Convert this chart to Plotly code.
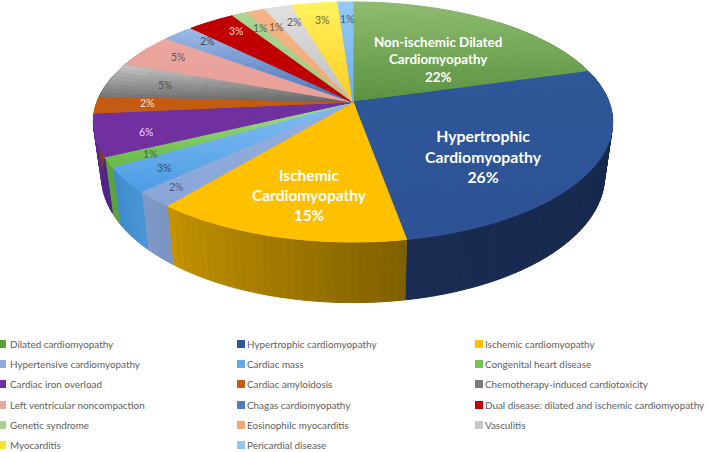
import math
import plotly.graph_objects as go

# ---------- data ----------
categories = [
    "Dilated cardiomyopathy", "Hypertrophic cardiomyopathy", "Ischemic cardiomyopathy",
    "Hypertensive cardiomyopathy", "Cardiac mass", "Congenital heart disease",
    "Cardiac iron overload", "Cardiac amyloidosis", "Chemotherapy-induced cardiotoxicity",
    "Left ventricular noncompaction", "Chagas cardiomyopathy",
    "Dual disease: dilated and ischemic cardiomyopathy",
    "Genetic syndrome", "Eosinophilc myocarditis", "Vasculitis",
    "Myocarditis", "Pericardial disease",
]
# share of the circle as drawn
slice_share = [20.6, 26.6, 13.7, 2.2, 3.4, 1.3, 5.7, 2.3, 4.8, 4.6, 2.3, 3.5, 1.1, 1.4, 2.0, 3.4, 1.1]
# printed labels
pct_labels = ["22%", "26%", "15%", "2%", "3%", "1%", "6%", "2%", "5%", "5%", "2%", "3%", "1%", "1%", "2%", "3%", "1%"]

# ---------- styles ----------
top_upper = ["#8FBC70", "#2D5797", "#FFC000", "#94AEDE", "#82BEF2", "#A2E08A", "#7030A0", "#C55A11",
             "#C8C8C8", "#EAA6A0", "#A0BCE8", "#C00000", "#ABD391", "#F5B488", "#E0E0E0", "#FFF25E", "#94CAF6"]
top_lower = ["#5A9240", "#2D5296", "#FFC000", "#8AA5D8", "#4D9CE4", "#67B845", "#7030A0", "#C55A11",
             "#666666", "#E8A098", "#4470B8", "#C00000", "#A2CC86", "#F4A870", "#BEBEBE", "#FFCC20", "#6FAEE8"]
wall_start = ["#4C7A34", "#14264A", "#7F6000", "#7C93BF", "#4A96D6", "#5BA33F", "#4F2288", "#8A3F0C",
              "#555555", "#A87068", "#3A5F99", "#800000", "#80A068", "#B88050", "#909090", "#B89A10", "#5A90C0"]
wall_end = ["#4C7A34", "#1A2C52", "#C49200", "#8099C8", "#3F8ACB", "#5BA33F", "#5B2A90", "#8A3F0C",
            "#555555", "#A87068", "#3A5F99", "#800000", "#80A068", "#B88050", "#909090", "#B89A10", "#5A90C0"]

big_labels = [
    (0, "Non-ischemic Dilated<br>Cardiomyopathy", 438, 59, 13.4),
    (1, "Hypertrophic<br>Cardiomyopathy", 483, 156, 15.8),
    (2, "Ischemic<br>Cardiomyopathy", 309, 195, 15.5),
]
small_label_pos = {3: (176, 187, "#505A70"), 4: (164, 168, "#404A60"), 5: (150, 154, "#3E6A30"),
                   6: (146, 132, "#EAD8F6"), 7: (147, 103, "#FBE8DA"), 8: (165, 85, "#505050"),
                   9: (178, 57, "#6A5250"), 10: (207, 41, "#3A4A68"), 11: (236, 31, "#FFD8D8"),
                   12: (260, 28, "#4F6A44"), 13: (276, 27, "#7A5A48"), 14: (294, 22, "#5A5A5A"),
                   15: (322, 20, "#70683A"), 16: (347, 19, "#3F5C78")}
legend_colors = ["#5F9A40", "#2D5597", "#FFC000", "#8FAADC", "#64ABEC", "#74C455", "#7030A0", "#C55A11",
                 "#7A7A7A", "#EAA6A0", "#4F7CC0", "#C00000", "#A9D18E", "#F4A870", "#C8C8C8", "#FFE030", "#8FC6F4"]
legend_col_x = [2, 241, 479]
legend_row_y = [344, 364, 384, 405, 425, 445]

# ---------- projection ----------
CX, K = 353.0, 1 / 6
def top_pt(t, r=1.0):
    X, Y = r * math.sin(t), r * math.cos(t)
    w = 1 + K * Y
    return CX + 256 * X / w, 102 - 116.7 * Y / w
def bottom_pt(t):
    X, Y = math.sin(t), math.cos(t)
    w = 1 + K * Y
    return CX + 248 * X / w, 155 - 123 * Y / w

def rgb(h):
    return [int(h[i:i + 2], 16) for i in (1, 3, 5)]
def mix(a, b, f):
    ca, cb = rgb(a), rgb(b)
    return "#%02x%02x%02x" % tuple(round(x + (y - x) * f) for x, y in zip(ca, cb))

def add_poly_groups(fig, groups):
    for color, polys in groups.items():
        xs, ys = [], []
        for p in polys:
            xs += [q[0] for q in p] + [p[0][0], None]
            ys += [q[1] for q in p] + [p[0][1], None]
        fig.add_trace(go.Scatter(x=xs, y=ys, mode="lines", fill="toself", fillcolor=color,
                                 line=dict(color=color, width=1), hoverinfo="skip", showlegend=False))

fig = go.Figure()
LEVELS = 24
edges = [0.0]
for v in slice_share:
    edges.append(edges[-1] + v / sum(slice_share) * 2 * math.pi)

# side wall, only the part that can show
for i, v in enumerate(slice_share):
    a, b = edges[i], edges[i + 1]
    lo, hi = max(a, math.radians(40)), min(b, math.radians(300))
    if lo >= hi:
        continue
    n = max(1, int((hi - lo) / math.radians(1.5)))
    groups = {}
    for j in range(n):
        t0, t1 = lo + (hi - lo) * j / n, lo + (hi - lo) * (j + 1) / n
        f = round(((t0 + t1) / 2 - a) / (b - a) * LEVELS) / LEVELS
        c = mix(wall_start[i], wall_end[i], f)
        groups.setdefault(c, []).append([top_pt(t0), top_pt(t1), bottom_pt(t1), bottom_pt(t0)])
    add_poly_groups(fig, groups)

# top face, shaded by height on the page
RINGS = 16
for i, v in enumerate(slice_share):
    a, b = edges[i], edges[i + 1]
    n = max(2, int((b - a) / math.radians(2)))
    samples = [top_pt(a + (b - a) * j / n) for j in range(n + 1)] + [top_pt(0, 0)]
    ymin, ymax = min(p[1] for p in samples), max(p[1] for p in samples)
    groups = {}
    for j in range(n):
        t0, t1 = a + (b - a) * j / n, a + (b - a) * (j + 1) / n
        for k in range(RINGS):
            r0, r1 = k / RINGS, (k + 1) / RINGS
            yc = top_pt((t0 + t1) / 2, (r0 + r1) / 2)[1]
            f = round((yc - ymin) / max(ymax - ymin, 1) * LEVELS) / LEVELS
            c = mix(top_upper[i], top_lower[i], f)
            groups.setdefault(c, []).append([top_pt(t0, r0), top_pt(t1, r0), top_pt(t1, r1), top_pt(t0, r1)])
    add_poly_groups(fig, groups)

# legend drawn as marks and text, in reading order
lx, ly = [], []
for idx in range(len(categories)):
    lx.append(legend_col_x[idx % 3])
    ly.append(legend_row_y[idx // 3])
fig.add_trace(go.Scatter(x=lx, y=ly, mode="markers", showlegend=False, hoverinfo="skip",
                         marker=dict(symbol="square", size=8, color=legend_colors, line=dict(width=0))))

ann = []
for idx, name in enumerate(categories):
    ann.append(dict(x=lx[idx] + (6 if idx % 3 == 0 else 4), y=ly[idx], text=name, xanchor="left", yanchor="middle",
                    showarrow=False, font=dict(family="Lato", size=9.9, color="#606060")))
for i, text, x, y, size in big_labels:
    ann.append(dict(x=x, y=y, text="<b>%s<br>%s</b>" % (text, pct_labels[i]), xanchor="center", yanchor="middle",
                    showarrow=False, align="center", font=dict(family="Lato", size=size, color="#ffffff")))
for i, (x, y, color) in small_label_pos.items():
    ann.append(dict(x=x, y=y, text=pct_labels[i], xanchor="center", yanchor="middle", showarrow=False,
                    font=dict(family="Lato", size=10.5, color=color)))

fig.update_layout(
    width=709, height=452, margin=dict(l=0, r=0, t=0, b=0),
    paper_bgcolor="#ffffff", plot_bgcolor="#ffffff", showlegend=False, annotations=ann,
    xaxis=dict(range=[0, 709], visible=False, fixedrange=True),
    yaxis=dict(range=[452, 0], visible=False, fixedrange=True),
)
fig.write_html("out.html", config=dict(displayModeBar=False),
               post_script="document.body.style.margin='0';document.body.style.overflow='hidden';")
